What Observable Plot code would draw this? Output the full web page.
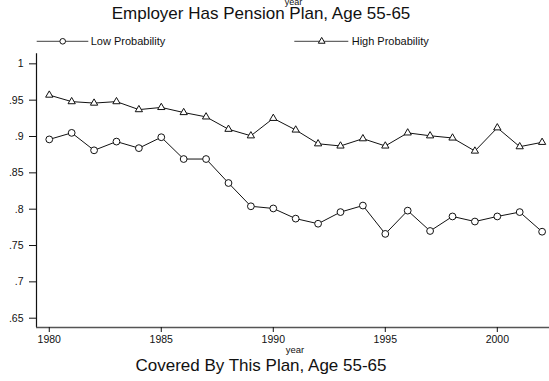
<!DOCTYPE html>
<html>
<head>
<meta charset="utf-8">
<script src="https://cdn.jsdelivr.net/npm/d3@7"></script>
<script src="https://cdn.jsdelivr.net/npm/@observablehq/plot@0.6"></script>
<style>
  html, body { margin: 0; padding: 0; background: #fff; }
  #chart { width: 549px; height: 381px; }
</style>
</head>
<body>
<div id="chart"></div>
<script>
// Share of workers aged 55-65 whose employer has a pension plan, by year
const years = [1980, 1981, 1982, 1983, 1984, 1985, 1986, 1987, 1988, 1989, 1990, 1991,
               1992, 1993, 1994, 1995, 1996, 1997, 1998, 1999, 2000, 2001, 2002];
const lowProb = [0.896, 0.905, 0.881, 0.893, 0.884, 0.899, 0.869, 0.869, 0.836, 0.804, 0.801, 0.787,
                 0.780, 0.796, 0.805, 0.766, 0.798, 0.770, 0.790, 0.783, 0.790, 0.796, 0.769];
const highProb = [0.957, 0.948, 0.946, 0.948, 0.937, 0.940, 0.933, 0.927, 0.910, 0.901, 0.925, 0.909,
                  0.890, 0.887, 0.897, 0.887, 0.905, 0.901, 0.898, 0.880, 0.912, 0.886, 0.892];
const yTicks = [0.65, 0.7, 0.75, 0.8, 0.85, 0.9, 0.95, 1];
const xTicks = [1980, 1985, 1990, 1995, 2000];
const seriesNames = ["Low Probability", "High Probability"];

const title = "Employer Has Pension Plan, Age 55-65";
const caption = "Covered By This Plan, Age 55-65";
const xLabel = "year";

const low = years.map((year, i) => ({year, value: lowProb[i]}));
const high = years.map((year, i) => ({year, value: highProb[i]}));

const xDomain = [1979.43, 2002.33];
const yDomain = [0.6372, 1.0138];
const font = "'Liberation Sans', Arial, Helvetica, sans-serif";
const fmtY = v => v === 1 ? "1" : String(+v.toFixed(2)).replace(/^0/, "");

const svg = Plot.plot({
  width: 549,
  height: 381,
  marginTop: 53.3,
  marginBottom: 54,
  marginLeft: 36,
  marginRight: 0,
  style: {fontFamily: font, background: "#fff", color: "#111", overflow: "visible"},
  x: {domain: xDomain},
  y: {domain: yDomain},
  marks: [
    Plot.ruleX([xDomain[0]], {stroke: "#111", strokeWidth: 1.2}),
    Plot.ruleY([yDomain[0]], {stroke: "#555", strokeWidth: 1.3}),
    Plot.axisY({ticks: yTicks, tickSize: 7, tickPadding: 6, tickFormat: fmtY, fontSize: 10.5, label: null}),
    Plot.axisX({ticks: xTicks, tickSize: 5, tickPadding: 3, tickFormat: d3.format("d"), fontSize: 10.5, label: null}),
    Plot.line(low, {x: "year", y: "value", stroke: "#111", strokeWidth: 1}),
    Plot.line(high, {x: "year", y: "value", stroke: "#111", strokeWidth: 1}),
    Plot.dot(low, {x: "year", y: "value", r: 3.4, symbol: "circle", fill: "#fff", stroke: "#111", strokeWidth: 1}),
    Plot.dot(high, {x: "year", y: "value", r: 2.7, symbol: "triangle", fill: "#fff", stroke: "#111", strokeWidth: 1})
  ]
});

// Titles, axis captions and legend
const s = d3.select(svg);
const txt = (x, y, str, size, anchor = "middle") =>
  s.append("text").attr("x", x).attr("y", y).attr("text-anchor", anchor)
    .attr("font-family", font).attr("font-size", size).attr("fill", "#111").text(str);

txt(293.5, 4.5, xLabel, 9);
txt(261, 19, title, 17);
txt(295, 353, xLabel, 9.5);
txt(261, 370.5, caption, 17);

const legend = [
  {x0: 36.7, x1: 88.3, mx: 62.7, sym: d3.symbolCircle, area: Math.PI * 2.8 * 2.8, label: seriesNames[0], lx: 90.7},
  {x0: 294.3, x1: 348.3, mx: 321.7, sym: d3.symbolTriangle, area: Math.PI * 2.5 * 2.5, label: seriesNames[1], lx: 351.7}
];
const ly = 41.3;
for (const e of legend) {
  s.append("line").attr("x1", e.x0).attr("x2", e.x1).attr("y1", ly).attr("y2", ly)
    .attr("stroke", "#666").attr("stroke-width", 1.3);
  s.append("path").attr("d", d3.symbol(e.sym, e.area)())
    .attr("transform", `translate(${e.mx},${ly})`)
    .attr("fill", "#fff").attr("stroke", "#111").attr("stroke-width", 1);
  txt(e.lx, ly + 3.8, e.label, 11, "start");
}

document.getElementById("chart").appendChild(svg);
</script>
</body>
</html>
